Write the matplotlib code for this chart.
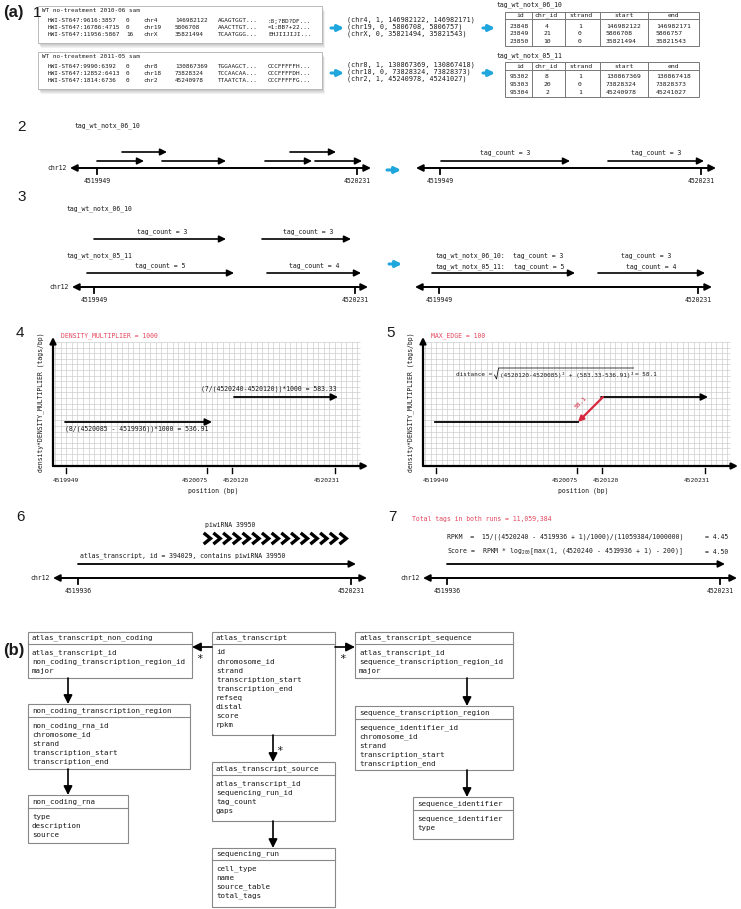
import numpy as np
import matplotlib.pyplot as plt
from matplotlib.patches import Rectangle

MONO = 'DejaVu Sans Mono'
SANS = 'Liberation Sans'
CYAN = '#1fa6dc'
RED = '#e4485f'
INK = '#1a1a1a'

# ---------------- data ----------------
sam_titles = ['WT no-treatment 2010-06 sam', 'WT no-treatment 2011-05 sam']
sam_run1 = [('HWI-ST647:9616:3857', '0', 'chr4', '146982122', 'AGAGTGGT...', ':8;?BD?DF...'),
            ('HWI-ST647:16786:4715', '0', 'chr19', '5806708', 'AAACTTGT...', '=1:BB?+22...'),
            ('HWI-ST647:11956:5867', '16', 'chrX', '35821494', 'TCAATGGG...', 'EHJIIJIJI...')]
sam_run2 = [('HWI-ST647:9990:6392', '0', 'chr8', '130867369', 'TGGAAGCT...', 'CCCFFFFFH...'),
            ('HWI-ST647:12852:6413', '0', 'chr18', '73828324', 'TCCAACAA...', 'CCCFFFFDH...'),
            ('HWI-ST647:1814:6736', '0', 'chr2', '45240978', 'TTAATCTA...', 'CCCFFFFFG...')]
tuples_run1 = ['(chr4, 1, 146982122, 146982171)', '(chr19, 0, 5806708, 5806757)',
               '(chrX, 0, 35821494, 35821543)']
tuples_run2 = ['(chr8, 1, 130867369, 130867418)', '(chr18, 0, 73828324, 73828373)',
               '(chr2, 1, 45240978, 45241027)']
table_names = ['tag_wt_notx_06_10', 'tag_wt_notx_05_11']
table_cols = ['id', 'chr_id', 'strand', 'start', 'end']
table_run1 = [('23848', '4', '1', '146982122', '146982171'),
              ('23849', '21', '0', '5806708', '5806757'),
              ('23850', '10', '0', '35821494', '35821543')]
table_run2 = [('95302', '8', '1', '130867369', '130867418'),
              ('95303', '20', '0', '73828324', '73828373'),
              ('95304', '2', '1', '45240978', '45241027')]

chrom = 'chr12'
ticks_23 = ['4519949', '4520231']
counts_06_10 = [3, 3]
counts_05_11 = [5, 4]
density_ticks = ['4519949', '4520075', '4520120', '4520231']
density_lo = '(8/(4520085 - 4519936))*1000 = 536.91'
density_hi = '(7/(4520240-4520120))*1000 = 583.33'
distance_inner = '(4520120-4520085)\u00b2 + (583.33-536.91)\u00b2'
distance_value = '58.1'
ticks_67 = ['4519936', '4520231']

f_non_coding = ['atlas_transcript_id', 'non_coding_transcription_region_id', 'major']
f_atlas = ['id', 'chromosome_id', 'strand', 'transcription_start', 'transcription_end',
           'refseq', 'distal', 'score', 'rpkm']
f_sequence = ['atlas_transcript_id', 'sequence_transcription_region_id', 'major']
f_nc_region = ['non_coding_rna_id', 'chromosome_id', 'strand', 'transcription_start',
               'transcription_end']
f_nc_rna = ['type', 'description', 'source']
f_source = ['atlas_transcript_id', 'sequencing_run_id', 'tag_count', 'gaps']
f_run = ['cell_type', 'name', 'source_table', 'total_tags']
f_seq_region = ['sequence_identifier_id', 'chromosome_id', 'strand', 'transcription_start',
                'transcription_end']
f_seq_id = ['sequence_identifier', 'type']

# ---------------- canvas ----------------
fig = plt.figure(figsize=(7.41, 9.09), dpi=100)
ax = fig.add_axes([0, 0, 1, 1])
ax.set_xlim(0, 741)
ax.set_ylim(909, 0)
ax.axis('off')


def t(x, y, s, size=4.7, color=INK, ha='left', va='center', family=MONO, **kw):
    ax.text(x, y, s, fontsize=size, color=color, ha=ha, va=va, family=family, **kw)


def cw(size):
    # width of one monospace character in pixels
    return 0.602 * size * 100 / 72


def arr(x0, y0, x1, y1, color='k', lw=1.2, ms=10, style='-|>'):
    ax.annotate('', xy=(x1, y1), xytext=(x0, y0),
                arrowprops=dict(arrowstyle=style, color=color, lw=lw,
                                mutation_scale=ms, shrinkA=0, shrinkB=0))


def chrline(x0, x1, y, ticks, labels, name=True):
    arr(x0, y, x1, y, lw=1.4, ms=10, style='<|-|>')
    if name:
        t(x0 - 3, y, chrom, ha='right')
    for xt, lab in zip(ticks, labels):
        ax.plot([xt, xt], [y, y + 6], color='k', lw=1.3)
        t(xt, y + 13, lab, ha='center')


def num(x, y, s):
    t(x, y, s, size=11, family=SANS)


# ---------------- (a) 1 ----------------
t(3, 13, '(a)', size=12, family=SANS, weight='bold')
num(33, 13, '1')

sam_cols = [48, 126, 143, 175, 218, 268]
for (by, title, rows, tups, ay) in [(6, sam_titles[0], sam_run1, tuples_run1, 28),
                                    (52, sam_titles[1], sam_run2, tuples_run2, 73)]:
    for k in range(1, 6):
        ax.add_patch(Rectangle((38 + k * 0.6, by + k), 284, 37, facecolor='#555555',
                               alpha=0.08, edgecolor='none', zorder=1))
    ax.add_patch(Rectangle((38, by), 284, 37, facecolor='white', edgecolor='#b0b0b0',
                           lw=0.6, zorder=2))
    t(42, by + 5, title, size=4.3, zorder=3)
    for i, row in enumerate(rows):
        for xc, val in zip(sam_cols, row):
            t(xc, by + 15 + 6.9 * i, val, size=4.3, zorder=3)
    arr(331, ay, 344, ay, color=CYAN, lw=2.2, ms=9)
    for i, s in enumerate(tups):
        t(347, ay - 8 + 7 * i, s, size=4.9)

col_edges = [505, 532, 565, 600, 648, 699]
for (ly, top, hb, bot, name, rows, ay) in [(5, 12, 19, 46, table_names[0], table_run1, 28),
                                          (56, 62, 70, 97, table_names[1], table_run2, 73)]:
    arr(483, ay, 495, ay, color=CYAN, lw=2.2, ms=9)
    t(497, ly, name, size=4.7)
    ax.add_patch(Rectangle((505, top), 194, bot - top, facecolor='white',
                           edgecolor='#777777', lw=0.7))
    ax.plot([505, 699], [hb, hb], color='#777777', lw=0.7)
    for xe in col_edges[1:-1]:
        ax.plot([xe, xe], [top, bot], color='#777777', lw=0.7)
    hx = [520, 546, 581, 624, 673]
    for xc, c in zip(hx, table_cols):
        t(xc, (top + hb) / 2, c, size=4.6, ha='center')
    for i, row in enumerate(rows):
        yy = hb + 7 + 7.6 * i
        t(519, yy, row[0], size=4.6, ha='center')
        t(547, yy, row[1], size=4.6, ha='center')
        t(580, yy, row[2], size=4.6, ha='center')
        t(606, yy, row[3], size=4.6)
        t(656, yy, row[4], size=4.6)

# ---------------- 2 ----------------
num(17, 127, '2')
t(75, 126, table_names[0])
for (x0, x1) in [(122, 167), (290, 336)]:
    arr(x0, 152, x1, 152)
for (x0, x1) in [(97, 144), (162, 226), (265, 312), (315, 362)]:
    arr(x0, 161, x1, 161)
chrline(70, 371, 168, [97, 357], ticks_23)
arr(387, 170, 401, 170, color=CYAN, lw=2.2, ms=9)
chrline(416, 716, 168, [440, 701], ticks_23, name=False)
for (x0, x1), c in zip([(441, 570), (608, 704)], counts_06_10):
    arr(x0, 161, x1, 161)
    t((x0 + x1) / 2, 153, 'tag_count = %d' % c, ha='center')

# ---------------- 3 ----------------
num(17, 197, '3')
t(67, 209, table_names[0])
for (x0, x1), c in zip([(94, 226), (262, 351)], counts_06_10):
    arr(x0, 239, x1, 239)
    t((x0 + x1) / 2 + 2, 232, 'tag_count = %d' % c, ha='center')
t(67, 256, table_names[1])
for (x0, x1), c in zip([(87, 234), (267, 361)], counts_05_11):
    arr(x0, 273, x1, 273)
    t((x0 + x1) / 2, 266, 'tag_count = %d' % c, ha='center')
chrline(72, 368, 287, [94, 355], ticks_23)
arr(389, 264, 402, 264, color=CYAN, lw=2.2, ms=9)
t(436, 256, table_names[0] + ':')
t(436, 267, table_names[1] + ':')
t(538, 256, 'tag_count = %d' % counts_06_10[0], ha='center')
t(646, 256, 'tag_count = %d' % counts_06_10[1], ha='center')
for (x0, x1), c in zip([(432, 575), (598, 705)], counts_05_11):
    arr(x0, 273, x1, 273)
    t((x0 + x1) / 2 + (36 if c == 5 else 0), 267, 'tag_count = %d' % c, ha='center')
chrline(415, 712, 287, [439, 698], ticks_23, name=False)


# ---------------- 4 and 5 : density plots ----------------
def density_panel(ox, red_text, numlabel):
    ax0 = 53 + ox
    gx = np.arange(ax0 + 2, 360 + ox, 5.6)
    gy = np.arange(342, 466, 5.6)
    ax.vlines(gx, 342, 466, color='#cdcdcd', lw=0.5)
    ax.hlines(gy, ax0, 360 + ox, color='#cdcdcd', lw=0.5)
    arr(ax0, 466, ax0, 337, lw=1.6, ms=9)
    arr(ax0, 466, 368 + ox, 466, lw=1.6, ms=9)
    num(16 + ox, 333, numlabel)
    t(61 + ox, 336, red_text, color=RED)
    t(41 + ox, 402, 'density*DENSITY_MULTIPLIER (tags/bp)', rotation=90, ha='center')
    for xt, xl, lab in zip([66, 207, 232, 335], [66, 195, 236, 327], density_ticks):
        ax.plot([xt + ox, xt + ox], [468, 473], color='k', lw=1.0)
        t(xl + ox, 480, lab, ha='center', size=4.5)
    t(213 + ox, 491, 'position (bp)', ha='center')


density_panel(0, 'DENSITY_MULTIPLIER = 1000', '4')
arr(65, 422, 212, 422, lw=1.3)
t(65, 429, density_lo)
arr(234, 397, 338, 397, lw=1.3)
t(337, 389, density_hi, ha='right')

density_panel(370, 'MAX_EDGE = 100', '5')
ax.plot([435, 578], [422, 422], color='k', lw=1.3)
arr(601, 397, 708, 397, lw=1.3)
arr(603, 397, 578, 422, color='#d8283f', lw=1.6, ms=8)
t(581, 403, distance_value, color='#d8283f', rotation=45, ha='center', size=4.5)
ds = 4.3
t(456, 375, 'distance =', size=ds)
xin = 456 + 11 * cw(ds) + 4
t(xin, 375, distance_inner, size=ds)
xend = xin + len(distance_inner) * cw(ds)
ax.plot([xin - 5, xin - 3, xin - 1, xend + 1], [375, 379, 368, 368], color=INK, lw=0.6)
t(xend + 2, 375, '= ' + distance_value, size=ds)

# ---------------- 6 ----------------
num(16, 517, '6')
t(205, 525, 'piwiRNA 39950')
for i in range(15):
    cx = 205 + i * 9.7
    ax.plot([cx, cx + 5.5, cx], [534, 538.5, 543], color='k', lw=2.4,
            solid_joinstyle='miter')
t(80, 556, 'atlas_transcript, id = 394029, contains piwiRNA 39950')
arr(78, 564, 356, 564, lw=1.3)
chrline(53, 367, 578, [78, 351], ticks_67)

# ---------------- 7 ----------------
num(388, 517, '7')
t(412, 519, 'Total tags in both runs = 11,059,384', color=RED)
t(447, 537, 'RPKM  =  15/((4520240 - 4519936 + 1)/1000)/(11059384/1000000)')
t(705, 537, '= 4.45')
t(447, 552, r'Score =  RPKM * $\mathregular{log_{200}}$[max(1, (4520240 - 4519936 + 1) - 200)]')
t(705, 552, '= 4.50')
arr(447, 564, 725, 564, lw=1.3)
chrline(423, 737, 578, [447, 720], ticks_67)

# ---------------- (b) schema ----------------
t(3, 650, '(b)', size=12, family=SANS, weight='bold')


def box(x0, x1, y0, y1, yl, title, fields):
    ax.add_patch(Rectangle((x0, y0), x1 - x0, y1 - y0, facecolor='white',
                           edgecolor='#888888', lw=0.8))
    ax.plot([x0, x1], [yl, yl], color='#888888', lw=0.8)
    t(x0 + 4, (y0 + yl) / 2, title, size=5.4)
    for i, f in enumerate(fields):
        t(x0 + 4, yl + 8.5 + 9.1 * i, f, size=5.4)


box(28, 192, 632, 678, 644, 'atlas_transcript_non_coding', f_non_coding)
box(212, 335, 632, 735, 644, 'atlas_transcript', f_atlas)
box(355, 513, 632, 678, 644, 'atlas_transcript_sequence', f_sequence)
box(28, 190, 704, 769, 717, 'non_coding_transcription_region', f_nc_region)
box(28, 128, 795, 843, 808, 'non_coding_rna', f_nc_rna)
box(212, 335, 762, 821, 775, 'atlas_transcript_source', f_source)
box(212, 335, 848, 907, 860, 'sequencing_run', f_run)
box(355, 513, 706, 770, 719, 'sequence_transcription_region', f_seq_region)
box(413, 513, 797, 839, 810, 'sequence_identifier', f_seq_id)

for (x0, y0, x1, y1) in [(68, 678, 68, 704), (68, 769, 68, 795), (212, 647, 192, 647),
                         (335, 647, 355, 647), (273, 735, 273, 762), (273, 821, 273, 848),
                         (467, 678, 467, 706), (467, 770, 467, 797)]:
    arr(x0, y0, x1, y1, lw=1.2, ms=13)
for (x, y) in [(200, 659), (343, 659), (280, 751)]:
    t(x, y, '*', size=8, ha='center')

fig.savefig('out.png', dpi=100)
